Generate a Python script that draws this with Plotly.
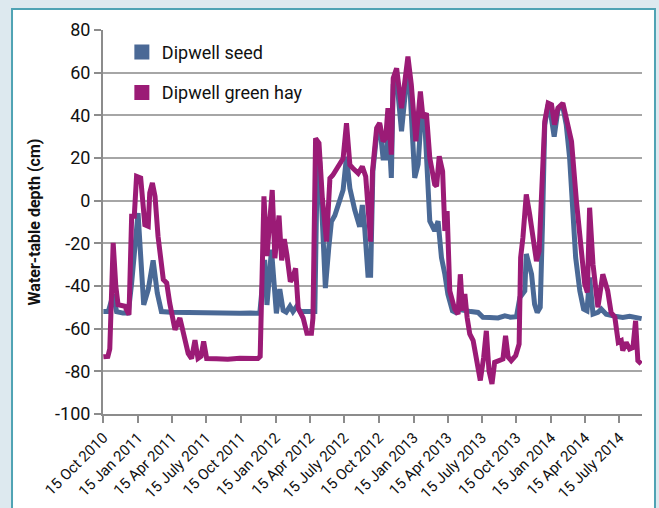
import plotly.graph_objects as go
import pandas as pd

START = pd.Timestamp("2010-10-15")

# Days since 15 Oct 2010 and water-table depth (cm)
seed_day = [0, 13, 26, 35, 52, 66, 75, 84, 92, 99, 107, 119, 132, 143, 154, 180, 203, 230, 256, 283,
            309, 335, 362, 390, 415, 428, 434, 446, 459, 468, 477, 485, 495, 503, 513, 522, 535, 548,
            561, 568, 574, 589, 598, 605, 614, 627, 636, 645, 654, 667, 680, 687, 693, 702, 709, 715,
            725, 733, 742, 751, 755, 764, 769, 778, 791, 804, 811, 826, 835, 844, 853, 866, 879, 888,
            897, 906, 914, 926, 935, 945, 959, 975, 994, 1007, 1025, 1047, 1065, 1080, 1096, 1105, 1118,
            1122, 1136, 1144, 1151, 1159, 1165, 1171, 1180, 1184, 1196, 1206, 1218, 1228, 1237, 1246,
            1253, 1264, 1274, 1283, 1290, 1299, 1312, 1321, 1334, 1352, 1365, 1378, 1396, 1410, 1428]
seed_depth = [-52, -52, -44, -52, -52.7, -52.7, -38.6, -23, -5.8, -26, -48.8, -41.7, -28, -43.3, -52,
              -52.3, -52.4, -52.6, -52.5, -52.8, -52.6, -52.9, -52.8, -52.7, -52.8, -27.8, -48.9, -23,
              -52.8, -41.5, -51.5, -52.3, -49.5, -52, -49.5, -52, -51.8, -52, -52, 24, 18, -41, -22,
              -9.8, -7, 1, 5, 20.6, 5.8, -4.4, -12.2, -2, -12, -35, -35, 13.8, 31, 35.6, 20, 20, 40.3,
              10.7, 54.3, 57.4, 32.5, 55.9, 60.5, 10.7, 17, 41.8, 35.6, -9.6, -14.2, -9.6, -26.7, -34.5,
              -43.8, -51.6, -52.4, -51, -51.6, -52, -52.4, -54.7, -54.8, -55, -54, -54.6, -54.4, -45.4,
              -42.3, -25, -34.5, -48.5, -52.4, -50, -11, 35.6, 45, 44, 30, 42.6, 45, 35.6, 20, -11,
              -26.7, -42.3, -50.8, -51.6, -36, -53.2, -52.4, -50.8, -53.2, -54, -54.3, -54.7, -54.2,
              -54.6, -55.3]

hay_day = [0, 12, 17, 26, 33, 39, 57, 68, 75, 82, 88, 99, 110, 119, 123, 130, 137, 145, 159, 168, 176,
           190, 203, 212, 225, 234, 243, 251, 259, 266, 274, 300, 330, 362, 390, 410, 416, 426, 434,
           448, 455, 466, 473, 480, 487, 496, 502, 510, 517, 530, 540, 552, 556, 563, 572, 581, 592,
           601, 609, 620, 627, 636, 645, 654, 662, 676, 687, 696, 709, 714, 725, 733, 742, 749, 755,
           764, 769, 778, 791, 804, 808, 817, 829, 841, 848, 857, 866, 879, 884, 891, 900, 906, 912,
           919, 932, 941, 947, 953, 959, 965, 972, 981, 990, 1000, 1009, 1016, 1023, 1031, 1038, 1052,
           1060, 1067, 1074, 1082, 1094, 1103, 1107, 1113, 1122, 1131, 1140, 1149, 1156, 1162, 1171,
           1180, 1189, 1197, 1206, 1219, 1232, 1242, 1255, 1268, 1277, 1284, 1290, 1299, 1312, 1325,
           1338, 1347, 1357, 1366, 1374, 1378, 1387, 1396, 1405, 1412, 1418, 1427]
hay_depth = [-73.2, -73, -69.5, -19.8, -40.2, -48.8, -49.5, -53.4, -7.3, -7.3, 11.4, 10.6, -11.3, -12,
             3.6, 8.3, 2, -16.7, -37, -38.6, -48, -60.5, -55, -61, -71.6, -74, -65.4, -74, -73, -66,
             -74, -74.1, -74.3, -73.9, -74.2, -74, -73, 2, -26, 5, -27, -7, -28, -18, -25.5, -38,
             -36.4, -31.7, -50.5, -55, -62.2, -62.2, -55, 29.2, 27, 1.1, -19.2, 10.5, 12, 15.2, 17.5,
             19.8, 36.3, 16.7, 15.2, 12.8, 16, 11.3, -19.2, 13.8, 34, 36.4, 27.8, 29.4, 43.4, 21.6,
             57.4, 62.1, 43.4, 62.1, 67.5, 54.3, 27.8, 51.2, 38.7, 41, 20, 7.6, 6.8, 20.8, 13.8, -14.2,
             -4.9, -42.3, -50.8, -53.2, -34.5, -51.6, -43.8, -54.7, -62.5, -65.6, -75, -84.3, -73.4,
             -61, -79.7, -85.9, -75.8, -75, -74.2, -63.3, -73.4, -75, -72.6, -67.2, -26.7, -17.4, 2.9,
             -6.4, -17.4, -28.3, -23.6, 7.6, 37.2, 45.7, 45, 35.6, 43.4, 45.7, 35.6, 27.8, -0.2, -23.6,
             -39.1, -43, -3.3, -29.8, -50, -34.5, -42.3, -52.4, -54.7, -66.4, -65.6, -70.3, -66.4,
             -69.5, -68.8, -56.3, -75, -76.5]

tick_dates = ["2010-10-15", "2011-01-15", "2011-04-15", "2011-07-15", "2011-10-15", "2012-01-15",
              "2012-04-15", "2012-07-15", "2012-10-15", "2013-01-15", "2013-04-15", "2013-07-15",
              "2013-10-15", "2014-01-15", "2014-04-15", "2014-07-15"]
tick_labels = ["15 Oct 2010", "15 Jan 2011", "15 Apr 2011", "15 July 2011", "15 Oct 2011",
               "15 Jan 2012", "15 Apr 2012", "15 July 2012", "15 Oct 2012", "15 Jan 2013",
               "15 Apr 2013", "15 July 2013", "15 Oct 2013", "15 Jan 2014", "15 Apr 2014",
               "15 July 2014"]
y_ticks = [-100, -80, -60, -40, -20, 0, 20, 40, 60, 80]
y_tick_labels = [str(v) for v in y_ticks]

series_names = ["Dipwell seed", "Dipwell green hay"]
series_colors = ["#4a6996", "#9b1b76"]

FONT = "Roboto, Liberation Sans Narrow, sans-serif"

seed_x = [START + pd.Timedelta(days=d) for d in seed_day]
hay_x = [START + pd.Timedelta(days=d) for d in hay_day]

fig = go.Figure()
fig.add_trace(go.Scatter(x=seed_x, y=seed_depth, mode="lines", showlegend=False,
                         line=dict(color=series_colors[0], width=5)))
fig.add_trace(go.Scatter(x=hay_x, y=hay_depth, mode="lines", showlegend=False,
                         line=dict(color=series_colors[1], width=5)))
# legend entries with square keys
for i, (nm, col) in enumerate(zip(series_names, series_colors)):
    fig.add_trace(go.Scatter(x=[None], y=[None], mode="markers", name=nm, legendgroup=str(i),
                             marker=dict(symbol="square", size=15, color=col)))

# white panel with teal border
fig.add_shape(type="rect", xref="paper", yref="paper", x0=-0.1688, x1=1.0241, y0=-0.3, y1=1.0547,
              fillcolor="white", line=dict(color="#4fa3b4", width=2), layer="below")

fig.update_layout(
    width=659, height=508,
    margin=dict(l=103, r=17, t=30, b=94),
    paper_bgcolor="#dde9ef", plot_bgcolor="white",
    font=dict(family=FONT, color="#111111"),
    legend=dict(x=0.035, y=0.99, xanchor="left", yanchor="top", bgcolor="rgba(0,0,0,0)",
                font=dict(size=18, family=FONT), tracegroupgap=14),
    xaxis=dict(type="date", range=[START - pd.Timedelta(days=1), START + pd.Timedelta(days=1429)],
               tickvals=tick_dates, ticktext=tick_labels, tickangle=-45,
               tickfont=dict(size=15, family=FONT),
               ticks="outside", ticklen=7, tickwidth=1.5, tickcolor="#8c8c8c",
               showline=True, linecolor="#8c8c8c", linewidth=2, showgrid=False, zeroline=False,
               automargin=False),
    yaxis=dict(range=[-100, 80], tickvals=y_ticks, ticktext=y_tick_labels,
               tickfont=dict(size=18, family=FONT),
               ticks="outside", ticklen=7, tickwidth=1.5, tickcolor="#8c8c8c",
               showline=True, linecolor="#8c8c8c", linewidth=2,
               showgrid=True, gridcolor="#a6a6a6", gridwidth=1.5, zeroline=False,
               automargin=False,
               title=dict(text="<b>Water-table depth (cm)</b>", font=dict(size=16, family=FONT),
                          standoff=10)),
)

fig.write_html("out.html", config={"displayModeBar": False},
               post_script="document.body.style.margin='0';")
